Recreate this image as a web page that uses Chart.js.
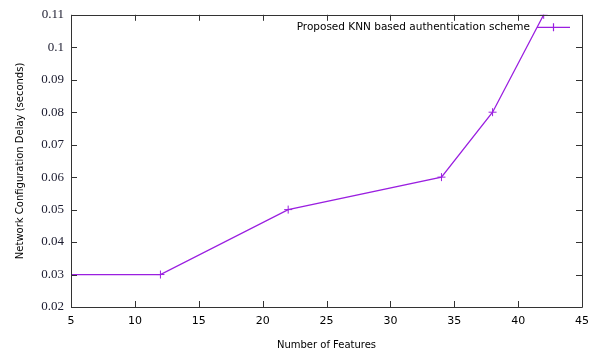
<!DOCTYPE html>
<html>
<head>
<meta charset="utf-8">
<script src="https://cdn.jsdelivr.net/npm/chart.js@4/dist/chart.umd.min.js"></script>
<style>
  html, body { margin: 0; padding: 0; background: #fff; }
  #wrap { width: 597px; height: 351px; position: relative; }
</style>
</head>
<body>
<div id="wrap"><canvas id="c" width="597" height="351"></canvas></div>
<script>
// Delay measurements per feature count
const featureCounts = [5, 12, 22, 34, 38, 42];
const delaySeconds = [0.03, 0.03, 0.05, 0.06, 0.08, 0.11];
const seriesLabel = 'Proposed KNN based authentication scheme';
const xTicks = [5, 10, 15, 20, 25, 30, 35, 40, 45];
const yTicks = [0.02, 0.03, 0.04, 0.05, 0.06, 0.07, 0.08, 0.09, 0.1, 0.11];

const lineColor = '#9a1fe0';
const frameColor = '#333';

// Frame, inward ticks on all four sides, and the key in the top-right corner
const framePlugin = {
  id: 'frame',
  afterDatasetsDraw(chart) {
    const { ctx, chartArea: a, scales } = chart;
    ctx.save();
    ctx.strokeStyle = frameColor;
    ctx.lineWidth = 1;
    ctx.beginPath();
    ctx.rect(Math.round(a.left) + 0.5, Math.round(a.top) + 0.5,
             Math.round(a.right - a.left), Math.round(a.bottom - a.top));
    ctx.stroke();
    const tl = 6;
    ctx.beginPath();
    xTicks.forEach(v => {
      const x = Math.round(scales.x.getPixelForValue(v)) + 0.5;
      ctx.moveTo(x, a.bottom); ctx.lineTo(x, a.bottom - tl);
      ctx.moveTo(x, a.top); ctx.lineTo(x, a.top + tl);
    });
    yTicks.forEach(v => {
      const y = Math.round(scales.y.getPixelForValue(v)) + 0.5;
      ctx.moveTo(a.left, y); ctx.lineTo(a.left + tl, y);
      ctx.moveTo(a.right, y); ctx.lineTo(a.right - tl, y);
    });
    ctx.stroke();

    // key
    const ky = a.top + 12.5;
    const sx0 = a.right - 45, sx1 = a.right - 12;
    ctx.font = '10.5px "DejaVu Sans"';
    ctx.fillStyle = '#000';
    ctx.textAlign = 'right';
    ctx.textBaseline = 'middle';
    ctx.fillText(chart.data.datasets[0].label, sx0 - 7, ky);
    ctx.strokeStyle = lineColor;
    ctx.lineWidth = 1.2;
    ctx.beginPath();
    ctx.moveTo(sx0, ky); ctx.lineTo(sx1, ky);
    const cx = (sx0 + sx1) / 2;
    ctx.moveTo(cx, ky - 4); ctx.lineTo(cx, ky + 4);
    ctx.stroke();
    ctx.restore();
  }
};

new Chart(document.getElementById('c'), {
  type: 'line',
  data: {
    datasets: [{
      label: seriesLabel,
      data: featureCounts.map((x, i) => ({ x, y: delaySeconds[i] })),
      borderColor: lineColor,
      backgroundColor: lineColor,
      borderWidth: 1.3,
      pointStyle: 'cross',
      pointRadius: 4,
      pointBorderWidth: 1,
      pointHoverRadius: 4,
      tension: 0,
      fill: false
    }]
  },
  options: {
    responsive: false,
    animation: false,
    events: [],
    layout: { padding: { top: 14, right: 15, left: 0, bottom: 0 } },
    plugins: {
      legend: { display: false },
      tooltip: { enabled: false }
    },
    scales: {
      x: {
        type: 'linear',
        min: 5, max: 45,
        afterBuildTicks(s) { s.ticks = xTicks.map(v => ({ value: v })); },
        afterFit(s) { s.height = 44; },
        grid: { display: false, drawTicks: false },
        border: { display: false },
        ticks: {
          color: '#000',
          font: { family: 'DejaVu Sans', size: 11 },
          padding: 8,
          maxRotation: 0,
          callback: v => String(v)
        },
        title: {
          display: true,
          text: 'Number of Features',
          color: '#000',
          font: { family: 'DejaVu Sans', size: 10 },
          padding: { top: 7, bottom: 0 }
        }
      },
      y: {
        type: 'linear',
        min: 0.02, max: 0.11,
        afterBuildTicks(s) { s.ticks = yTicks.map(v => ({ value: v })); },
        afterFit(s) { s.width = 71; },
        grid: { display: false, drawTicks: false },
        border: { display: false },
        ticks: {
          color: '#1a1a2e',
          font: { family: 'Liberation Serif', size: 13 },
          padding: 7,
          callback: v => String(+v.toFixed(2))
        },
        title: {
          display: true,
          text: 'Network Configuration Delay (seconds)',
          color: '#000',
          font: { family: 'DejaVu Sans', size: 10 },
          padding: { top: 14, bottom: 0 }
        }
      }
    }
  },
  plugins: [framePlugin]
});
</script>
</body>
</html>
